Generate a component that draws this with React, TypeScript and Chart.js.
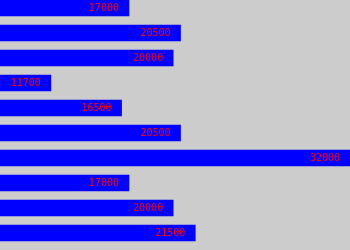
import React, { useEffect, useRef } from "react";
import { Chart, registerables } from "chart.js";

Chart.register(...registerables);

const categories = ["1", "2", "3", "4", "5", "6", "7", "8", "9", "10"];
const values = [17000, 20500, 20000, 11700, 16500, 20500, 32000, 17000, 20000, 21500];
const axisMin = 8250;
const axisMax = 32000;

const valueLabels = {
  id: "valueLabels",
  afterDatasetsDraw(chart: any) {
    const ctx = chart.ctx;
    const meta = chart.getDatasetMeta(0);
    ctx.save();
    ctx.fillStyle = "#ff0000";
    ctx.font = "10px 'DejaVu Sans Mono'";
    ctx.textAlign = "right";
    ctx.textBaseline = "middle";
    meta.data.forEach((bar: any, i: number) => {
      const end = Math.min(bar.x, chart.chartArea.right);
      ctx.fillText(String(values[i]), end - 10, bar.y + 0.5);
    });
    ctx.restore();
  },
};

export default function App() {
  const canvasRef = useRef<HTMLCanvasElement>(null);

  useEffect(() => {
    document.documentElement.style.background = "#cccccc";
    document.body.style.margin = "0";
    document.body.style.background = "#cccccc";
    const chart = new Chart(canvasRef.current!, {
      type: "bar",
      data: {
        labels: categories,
        datasets: [
          {
            data: values,
            backgroundColor: "#0000ff",
            borderWidth: 0,
            barThickness: 16,
          },
        ],
      },
      options: {
        indexAxis: "y",
        animation: false,
        responsive: true,
        maintainAspectRatio: false,
        layout: { padding: { top: 4.5, bottom: 4.5, left: 0, right: 0 } },
        scales: {
          x: { display: false, min: axisMin, max: axisMax },
          y: { display: false },
        },
        plugins: { legend: { display: false }, tooltip: { enabled: false } },
      },
      plugins: [valueLabels],
    });
    return () => chart.destroy();
  }, []);

  return (
    <div
      style={{
        position: "fixed",
        left: 0,
        top: -9,
        width: 350,
        height: 259,
        background: "#cccccc",
      }}
    >
      <canvas ref={canvasRef} />
    </div>
  );
}
